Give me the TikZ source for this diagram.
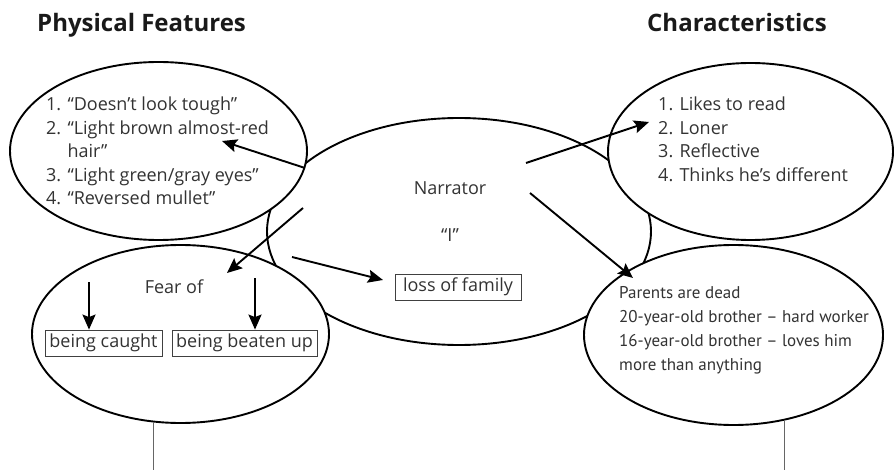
\documentclass[tikz,border=0pt]{standalone}
\usepackage{fontspec}
\setmainfont{Open Sans}
\newfontfamily\narrowfont{PT Sans}
\usetikzlibrary{shapes.geometric,arrows.meta}

\begin{document}
\begin{tikzpicture}[
  x=1pt, y=-1pt,
  bubble/.style={ellipse, draw, line width=1.9pt, fill=white, inner sep=0pt},
  heading/.style={font=\fontsize{24}{28}\selectfont\bfseries, text=black!90, anchor=base west, inner sep=0pt},
  list/.style={font=\fontsize{18}{23.5}\selectfont, text=black!80, align=left, anchor=base west, inner sep=0pt},
  word/.style={font=\fontsize{18}{22}\selectfont, text=black!80, anchor=base, inner sep=0pt},
  fearbox/.style={draw=black!75, line width=0.8pt, font=\fontsize{18}{22}\selectfont, text=black!80, minimum height=26pt, inner sep=0pt},
  link/.style={-{Stealth[length=15pt,width=13pt,inset=2.5pt]}, line width=1.9pt},
  leg/.style={draw=black!60, line width=0.8pt}
]
\useasboundingbox (0,0) rectangle (896,470);
\coordinate (bottom) at (0,470);

% Headings
\node[heading] (physhead) at (37,32) {Physical Features};
\node[heading] (charhead) at (647,32) {Characteristics};

% Bubbles
\node[bubble, minimum width=384pt, minimum height=227pt] (narrator) at (459,231.5) {};
\node[bubble, minimum width=297pt, minimum height=178pt] (physical) at (158.5,151) {};
\node[bubble, minimum width=285pt, minimum height=177pt] (chars) at (750.5,151.5) {};
\node[bubble, minimum width=297pt, minimum height=178pt] (fear) at (180.5,334) {};
\node[bubble, minimum width=299pt, minimum height=180pt] (parents) at (733.5,335) {};

% Texts (placed by the baseline of their last line)
\node[list] (physlist) at (46,205) {1. “Doesn’t look tough”\\2. “Light brown almost-red\\\phantom{2. }hair”\\3. “Light green/gray eyes”\\4. “Reversed mullet”};
\node[list] (charlist) at (658,181.5) {1. Likes to read\\2. Loner\\3. Reflective\\4. Thinks he’s different};
\node[list, font=\narrowfont\fontsize{17}{24}\selectfont] (parlist) at (619,370) {Parents are dead\\20-year-old brother – hard worker\\16-year-old brother – loves him\\more than anything};
\node[word] (narr) at (450,195) {Narrator};
\node[word] (me) at (450,242) {“I”};
\node[word] (fearof) at (174,293) {Fear of};
\node[fearbox, minimum width=117pt] (caught) at (103.5,343) {being caught};
\node[fearbox, minimum width=145pt] (beaten) at (244.5,343) {being beaten up};
\node[fearbox, minimum width=126pt] (loss) at (458,287) {loss of family};

% Arrows
\coordinate (n-phys) at (305,168);
\coordinate (t-phys) at (222,141);
\coordinate (n-fear) at (303,208);
\coordinate (t-fear) at (227,273);
\coordinate (n-loss) at (292,257);
\coordinate (t-loss) at (383,280);
\coordinate (n-char) at (526,163);
\coordinate (t-char) at (649,122);
\coordinate (n-par) at (530,193);
\coordinate (t-par) at (633,278);
\coordinate (f-caught) at (89,282);
\coordinate (f-beaten) at (255,278);
\draw[link] (n-phys) -- (t-phys);
\draw[link] (n-fear) -- (t-fear);
\draw[link] (n-loss) -- (t-loss);
\draw[link] (n-char) -- (t-char);
\draw[link] (n-par) -- (t-par);
\draw[link] (f-caught) -- (f-caught |- caught.north);
\draw[link] (f-beaten) -- (f-beaten |- beaten.north);

% Legs
\draw[leg] (fear.-107) -- (fear.-107 |- bottom);
\draw[leg] (parents.-59) -- (parents.-59 |- bottom);

\end{tikzpicture}
\end{document}
